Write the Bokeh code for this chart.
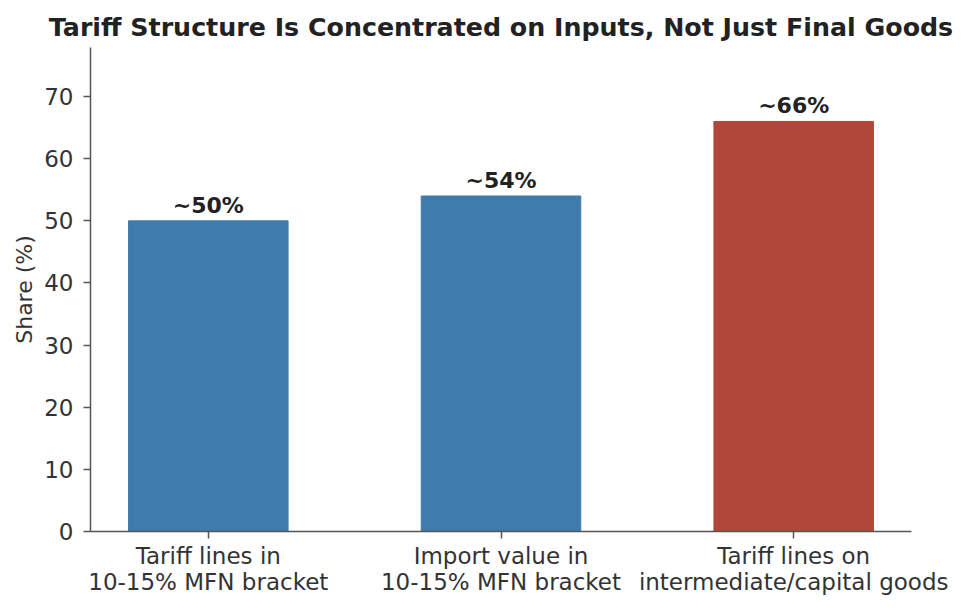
from bokeh.plotting import figure
from bokeh.models import Range1d, FixedTicker, ColumnDataSource
from bokeh.core.properties import value
from bokeh.embed import file_html
from bokeh.resources import INLINE

categories = ["Tariff lines in\n10-15% MFN bracket",
              "Import value in\n10-15% MFN bracket",
              "Tariff lines on\nintermediate/capital goods"]
values = [50, 54, 66]
labels = ["~50%", "~54%", "~66%"]
colors = ["#3f7bab", "#3f7bab", "#b1473a"]
y_ticks = [0, 10, 20, 30, 40, 50, 60, 70]

FONT = "DejaVu Sans"
xs = list(range(len(categories)))

src = ColumnDataSource(dict(x=xs, top=values, label=labels, color=colors))

p = figure(width=964, height=600, output_backend="svg",
           toolbar_location=None,
           x_range=Range1d(-0.4025, 2.4025), y_range=Range1d(0, 77.9),
           min_border_left=90, min_border_right=53, min_border_top=47,
           min_border_bottom=69)

p.title.text = "Tariff Structure Is Concentrated on Inputs, Not Just Final Goods"
p.title.text_font = FONT
p.title.text_font_size = "25.3px"
p.title.text_font_style = "bold"
p.title.text_color = "#222222"
p.title.align = "center"
p.title.standoff = 12

p.vbar(x="x", top="top", width=0.545, color="color", source=src)
p.text(x="x", y="top", text="label", source=src, text_align="center",
       text_baseline="bottom", y_offset=-3, text_font=value(FONT),
       text_font_size="22px", text_font_style="bold", text_color="#222222")

p.outline_line_color = None
p.xgrid.visible = False
p.ygrid.visible = False

for ax in (p.xaxis[0], p.yaxis[0]):
    ax.axis_line_color = "#555555"
    ax.axis_line_width = 1.5
    ax.major_tick_line_color = "#555555"
    ax.major_tick_line_width = 1.5
    ax.major_tick_out = 7
    ax.major_tick_in = 0
    ax.minor_tick_line_color = None
    ax.major_label_text_font = FONT
    ax.major_label_text_font_size = "23px"
    ax.major_label_text_color = "#333333"

p.xaxis.ticker = FixedTicker(ticks=xs)
p.xaxis.major_label_overrides = {i: c for i, c in enumerate(categories)}
p.xaxis.major_label_standoff = 4
p.xaxis.major_label_text_line_height = 1.0
p.yaxis.ticker = FixedTicker(ticks=y_ticks)
p.yaxis.major_label_standoff = 10
p.yaxis.axis_label = "Share (%)"
p.yaxis.axis_label_text_font = FONT
p.yaxis.axis_label_text_font_size = "22px"
p.yaxis.axis_label_text_font_style = "normal"
p.yaxis.axis_label_text_color = "#333333"
p.yaxis.axis_label_standoff = 4

open("out.html", "w").write(file_html(p, INLINE))
